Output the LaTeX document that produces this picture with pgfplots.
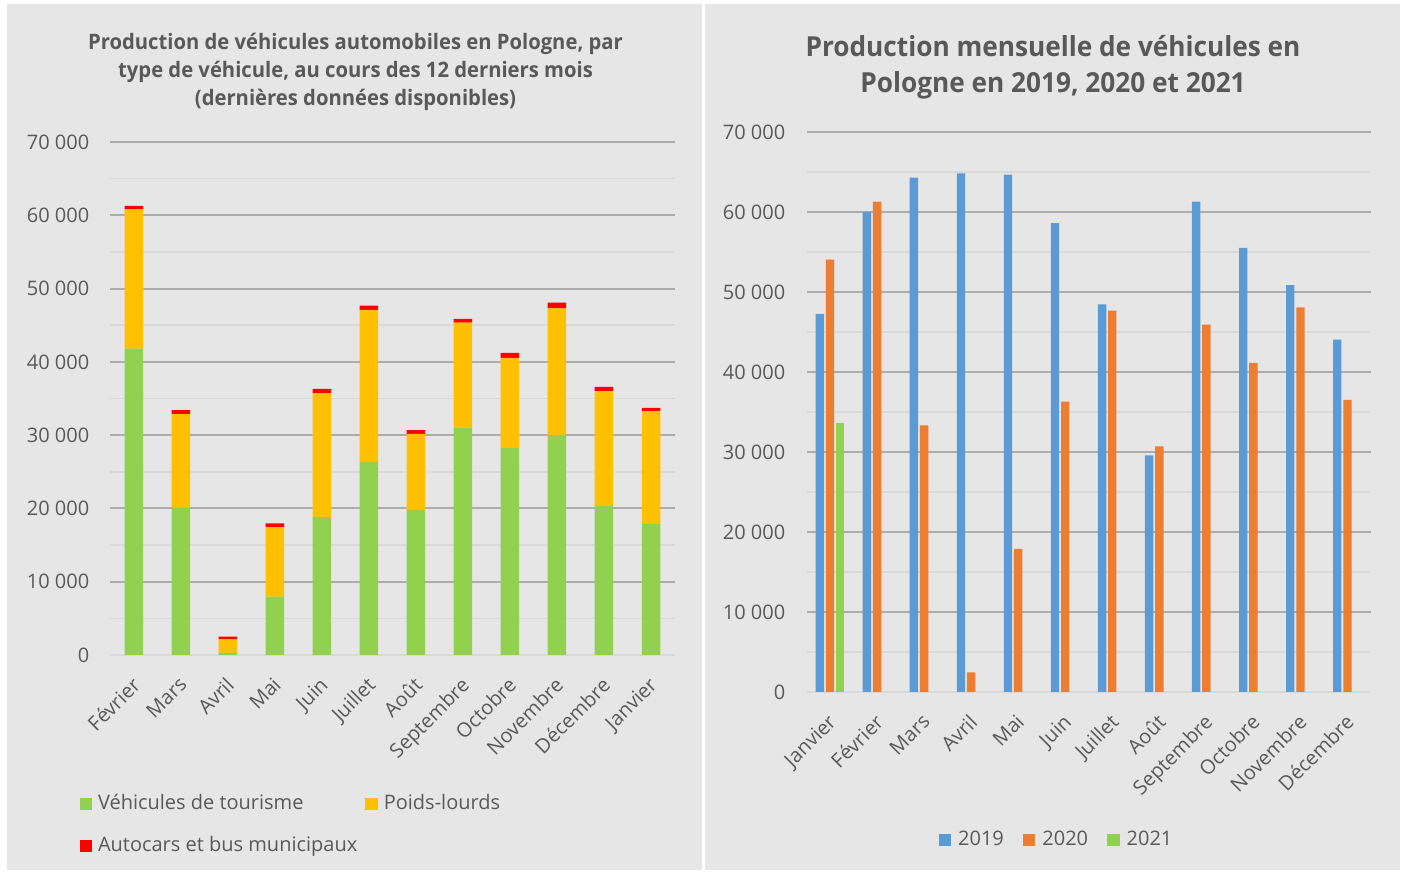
\documentclass[border=0pt]{standalone}
\usepackage{fontspec}
\setmainfont{Open Sans}
\newfontfamily\titlefont[FakeStretch=0.95]{Open Sans}
\usepackage{pgfplots}
\pgfplotsset{compat=1.18}
\definecolor{bg}{HTML}{E7E6E6}
\definecolor{txt}{HTML}{595959}
\definecolor{majgrid}{HTML}{AEABAB}
\definecolor{mingrid}{HTML}{D9D9D9}
\definecolor{cgreen}{HTML}{92D050}
\definecolor{cyellow}{HTML}{FFC000}
\definecolor{cred}{HTML}{FF0000}
\definecolor{cblue}{HTML}{5B9BD5}
\definecolor{corange}{HTML}{ED7D31}
\pgfplotsset{
  sq/.style={legend image code/.code={\fill[##1] (0pt,-6pt) rectangle (12.5pt,6.5pt);}},
  base/.style={
    scale only axis,
    axis line style={draw=none},
    tick style={draw=none},
    major tick length=0pt, minor tick length=0pt,
    ymin=0, ymax=70000, xmin=-0.5, xmax=11.5,
    enlargelimits=false,
    scaled y ticks=false,
    ytick={10000,20000,30000,40000,50000,60000,70000},
    yticklabels={10 000,20 000,30 000,40 000,50 000,60 000,70 000},
    minor ytick={5000,15000,25000,35000,45000,55000,65000},
    extra y ticks={0}, extra y tick labels={0},
    extra y tick style={major grid style={mingrid, line width=1.5pt}},
    ymajorgrids, yminorgrids,
    major grid style={majgrid, line width=2pt},
    minor grid style={mingrid, line width=1.5pt},
    yticklabel style={font=\fontsize{20}{24}\selectfont, text=txt, anchor=east, inner sep=0pt, xshift=-21pt},
    xtick={0,1,2,3,4,5,6,7,8,9,10,11},
    xticklabel style={font=\fontsize{20}{24}\selectfont, text=txt, rotate=45, anchor=north east, inner sep=0pt, yshift=-12.5pt, xshift=-17pt},
    legend cell align=left,
    legend style={draw=none, fill=none, font=\fontsize{20}{24}\selectfont, text=txt, inner sep=0pt,
      nodes={inner sep=0pt, text height=14pt, text depth=4pt},
      /tikz/every odd column/.append style={column sep=6pt}},
  }
}
\begin{document}
\begin{tikzpicture}[x=1pt,y=1pt]
\fill[white] (0,0) rectangle (1405,874);
\fill[bg] (7,4) rectangle (702,870);
\fill[bg] (705,4) rectangle (1400,870);

\node[align=center, text=txt, font=\titlefont\bfseries\fontsize{21.3}{28}\selectfont] at (355.5,802) {Production de véhicules automobiles en Pologne, par\\type de véhicule, au cours des 12 derniers mois\\(dernières données disponibles)};
\node[align=center, text=txt, font=\titlefont\bfseries\fontsize{27.6}{36}\selectfont] at (1053,807) {Production mensuelle de véhicules en\\Pologne en 2019, 2020 et 2021};

\begin{axis}[base,
  at={(110.4pt,219pt)}, anchor=south west,
  width=564.1pt, height=513pt,
  ybar stacked, bar width=18.5pt,
  xticklabels={Février,Mars,Avril,Mai,Juin,Juillet,Août,Septembre,Octobre,Novembre,Décembre,Janvier},
  legend columns=2,
  legend style={at={(-0.0551,-0.3314)}, anchor=west,
    /tikz/every even column/.append style={column sep=8pt},
    row sep=24pt},
]
\addplot[fill=cgreen, draw=none, sq] coordinates {(0,41800) (1,20000) (2,280) (3,7970) (4,18810) (5,26360) (6,19800) (7,31020) (8,28240) (9,30030) (10,20410) (11,17870)};
\addplot[fill=cyellow, draw=none, sq] coordinates {(0,19000) (1,12860) (2,1840) (3,9430) (4,16880) (5,20740) (6,10370) (7,14340) (8,12310) (9,17260) (10,15610) (11,15420)};
\addplot[fill=cred, draw=none, sq] coordinates {(0,470) (1,570) (2,380) (3,560) (4,610) (5,570) (6,520) (7,510) (8,660) (9,800) (10,570) (11,420)};
\legend{Véhicules de tourisme, Poids-lourds, Autocars et bus municipaux}
\end{axis}

\begin{axis}[base,
  at={(806.5pt,182pt)}, anchor=south west,
  width=564.5pt, height=560pt,
  ybar=1.8pt, bar width=8.4pt,
  xticklabels={Janvier,Février,Mars,Avril,Mai,Juin,Juillet,Août,Septembre,Octobre,Novembre,Décembre},
  legend columns=3,
  legend style={at={(0.4411,-0.265)}, anchor=center,
    /tikz/every odd column/.append style={column sep=7pt},
    /tikz/every even column/.append style={column sep=19pt}},
]
\addplot[fill=cblue, draw=none, sq] coordinates {(0,47250) (1,60010) (2,64310) (3,64820) (4,64680) (5,58620) (6,48450) (7,29590) (8,61300) (9,55520) (10,50860) (11,44060)};
\addplot[fill=corange, draw=none, sq] coordinates {(0,54050) (1,61300) (2,33330) (3,2450) (4,17890) (5,36290) (6,47670) (7,30700) (8,45910) (9,41150) (10,48080) (11,36520)};
\addplot[fill=cgreen, draw=none, sq] coordinates {(0,33660)};
\legend{2019, 2020, 2021}
\end{axis}
\end{tikzpicture}
\end{document}
